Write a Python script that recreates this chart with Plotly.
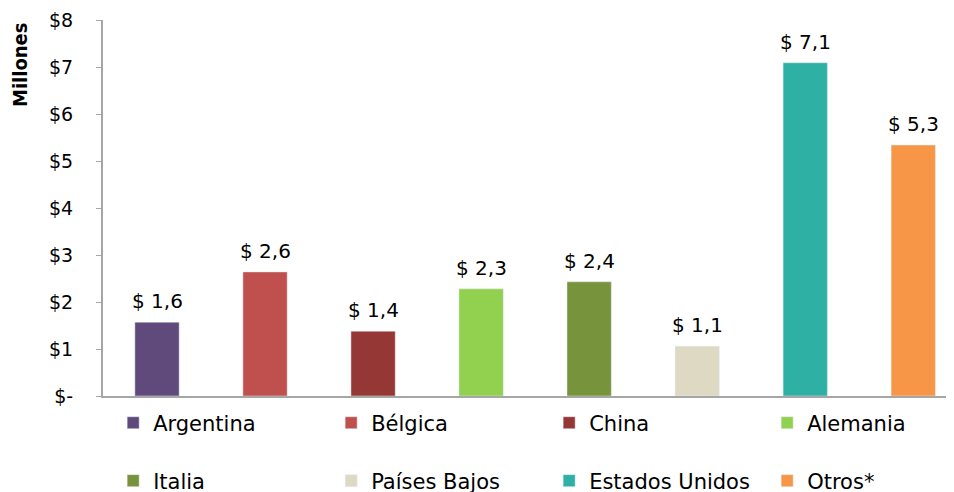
import plotly.graph_objects as go

countries = ["Argentina", "Bélgica", "China", "Alemania", "Italia", "Países Bajos", "Estados Unidos", "Otros*"]
values = [1.57, 2.64, 1.38, 2.28, 2.43, 1.06, 7.09, 5.34]
colors = ["#604A7B", "#C0504D", "#953735", "#92D050", "#77933C", "#DDD9C3", "#2EB0A4", "#F79646"]
ytick_vals = [0, 1, 2, 3, 4, 5, 6, 7, 8]
ytick_text = ["$-", "$1", "$2", "$3", "$4", "$5", "$6", "$7", "$8"]

FONT = "DejaVu Sans"
fig = go.Figure()
annotations = []
for i, (c, v, col) in enumerate(zip(countries, values, colors)):
    label = "$ " + f"{v:.1f}".replace(".", ",")
    fig.add_trace(go.Bar(
        x=[c], y=[v], name=c, marker_color=col, width=0.41,
        legend="legend" if i < 4 else "legend2",
        hoverinfo="skip",
    ))
    annotations.append(dict(
        x=c, y=v, xref="x", yref="y", text=label, showarrow=False,
        yanchor="bottom", xanchor="center", yshift=7,
        font=dict(family=FONT, size=20, color="#000000"),
    ))

legend_common = dict(
    orientation="h", xanchor="left", yanchor="middle", x=-0.001,
    font=dict(family=FONT, size=21, color="#000000"),
    entrywidth=173, entrywidthmode="pixels", itemwidth=30,
    bgcolor="rgba(0,0,0,0)", borderwidth=11, bordercolor="rgba(0,0,0,0)",
)
annotations.append(dict(
    text="<b>Millones</b>", textangle=-90, xref="paper", yref="paper",
    x=-0.098, y=0.883, xanchor="center", yanchor="middle", showarrow=False,
    font=dict(family="DejaVu Sans Condensed", size=20, color="#000000"),
))
fig.update_layout(
    width=954, height=492,
    margin=dict(l=95, r=12, t=12, b=104, autoexpand=False),
    paper_bgcolor="white", plot_bgcolor="white",
    barmode="overlay",
    showlegend=True,
    legend=dict(legend_common, y=-0.072),
    legend2=dict(legend_common, y=-0.226),
    xaxis=dict(
        categoryorder="array", categoryarray=countries,
        range=[-0.5, 7.34], showticklabels=False, ticks="",
        showline=True, linecolor="#A6A6A6", linewidth=2, showgrid=False, zeroline=False,
    ),
    yaxis=dict(
        range=[0, 8], tickvals=ytick_vals, ticktext=ytick_text,
        ticks="outside", ticklen=5, tickcolor="#A6A6A6", tickwidth=1,
        ticklabelstandoff=19,
        showline=True, linecolor="#A6A6A6", linewidth=2, showgrid=False, zeroline=False,
        tickfont=dict(family=FONT, size=19, color="#000000"),
    ),
    annotations=annotations,
)
fig.write_html("out.html")
